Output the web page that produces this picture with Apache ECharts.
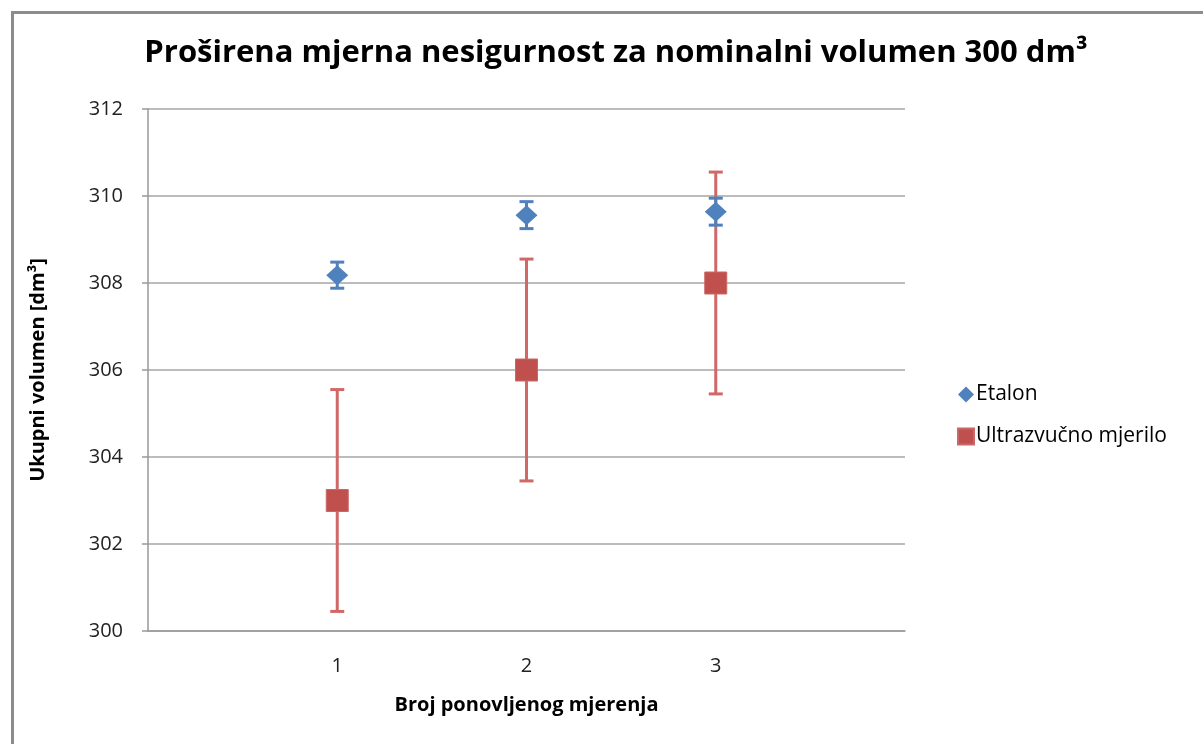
<!DOCTYPE html>
<html>
<head>
<meta charset="utf-8">
<script src="https://cdn.jsdelivr.net/npm/echarts@6/dist/echarts.min.js"></script>
<style>
html,body{margin:0;padding:0;background:#fff;}
#chart{width:1203px;height:744px;}
</style>
</head>
<body>
<div id="chart"></div>
<script>
var xValues = [1, 2, 3];
var etalonValues = [308.18, 309.56, 309.64];
var etalonErrors = [0.30, 0.31, 0.31];
var ultraValues = [303.0, 306.0, 308.0];
var ultraErrors = [2.55, 2.55, 2.55];
var yTicks = [300, 302, 304, 306, 308, 310, 312];
var xTickLabels = ['1', '2', '3'];
var seriesNames = ['Etalon', 'Ultrazvučno mjerilo'];

var BLUE = '#4F81BD', RED = '#C0504D';
var FONT = '"Open Sans", Lato, sans-serif';

function errData(vals, errs) {
  return xValues.map(function (x, i) { return [x, vals[i] - errs[i], vals[i] + errs[i]]; });
}
function pts(vals) {
  return xValues.map(function (x, i) { return [x, vals[i]]; });
}
function errRender(color, width, cap) {
  return function (params, api) {
    var lo = api.coord([api.value(0), api.value(1)]);
    var hi = api.coord([api.value(0), api.value(2)]);
    var st = { stroke: color, lineWidth: width };
    return {
      type: 'group',
      children: [
        { type: 'line', shape: { x1: lo[0], y1: lo[1], x2: hi[0], y2: hi[1] }, style: st },
        { type: 'line', shape: { x1: lo[0] - cap, y1: lo[1], x2: lo[0] + cap, y2: lo[1] }, style: st },
        { type: 'line', shape: { x1: hi[0] - cap, y1: hi[1], x2: hi[0] + cap, y2: hi[1] }, style: st }
      ]
    };
  };
}

var chart = echarts.init(document.getElementById('chart'), null, { renderer: 'canvas' });
chart.setOption({
  backgroundColor: '#fff',
  animation: false,
  graphic: [{
    type: 'rect', left: 10, top: 10, z: -10,
    shape: { width: 1300, height: 900 },
    style: { fill: 'none', stroke: '#8c8c8c', lineWidth: 3 }
  }],
  title: {
    text: 'Proširena mjerna nesigurnost za nominalni volumen 300 dm³',
    left: 611, top: 33, textAlign: 'center',
    textStyle: { fontFamily: FONT, fontWeight: 'bold', fontSize: 31, color: '#000' }
  },
  legend: {
    orient: 'vertical', left: 952, top: 379, itemGap: 21,
    itemWidth: 16, itemHeight: 16,
    textStyle: { fontFamily: FONT, fontSize: 21, color: '#000', padding: [0, 0, 0, -3] },
    data: [
      { name: seriesNames[0], icon: 'diamond', itemStyle: { color: BLUE, opacity: 1 } },
      { name: seriesNames[1], icon: 'rect', itemStyle: { color: RED, opacity: 1 } }
    ]
  },
  grid: { left: 148, right: 298, top: 109, bottom: 113 },
  xAxis: {
    type: 'value', min: 0, max: 4, interval: 1,
    name: 'Broj ponovljenog mjerenja', nameLocation: 'middle', nameGap: 64,
    nameTextStyle: { fontFamily: FONT, fontWeight: 'bold', fontSize: 20, color: '#000' },
    axisLine: { lineStyle: { color: '#999', width: 1.5 } },
    axisTick: { show: false },
    splitLine: { show: false },
    axisLabel: {
      fontFamily: FONT, fontSize: 20, color: '#222', margin: 25,
      formatter: function (v) { var i = xValues.indexOf(v); return i >= 0 ? xTickLabels[i] : ''; }
    }
  },
  yAxis: {
    type: 'value', min: yTicks[0], max: yTicks[yTicks.length - 1], interval: 2,
    name: 'Ukupni volumen [dm³]', nameLocation: 'middle', nameGap: 100, nameRotate: 90,
    nameTextStyle: { fontFamily: FONT, fontWeight: 'bold', fontSize: 20, color: '#000' },
    axisLine: { show: true, lineStyle: { color: '#999', width: 1.5 } },
    axisTick: { show: true, length: 6, lineStyle: { color: '#999', width: 1.5 } },
    splitLine: { lineStyle: { color: '#a6a6a6', width: 1.5 } },
    axisLabel: { fontFamily: FONT, fontSize: 20, color: '#222', margin: 25 }
  },
  series: [
    {
      type: 'custom', name: seriesNames[1] + ' err', z: 2,
      renderItem: errRender('#CF6866', 3, 7),
      data: errData(ultraValues, ultraErrors), silent: true
    },
    {
      type: 'scatter', name: seriesNames[1], z: 3, symbol: 'rect', symbolSize: 22,
      itemStyle: { color: RED, opacity: 1, borderColor: '#C96866', borderWidth: 1 },
      data: pts(ultraValues)
    },
    {
      type: 'custom', name: seriesNames[0] + ' err', z: 4,
      renderItem: errRender(BLUE, 3, 7),
      data: errData(etalonValues, etalonErrors), silent: true
    },
    {
      type: 'scatter', name: seriesNames[0], z: 5, symbol: 'diamond', symbolSize: [22, 20],
      itemStyle: { color: BLUE, opacity: 1 },
      data: pts(etalonValues)
    }
  ]
});
</script>
</body>
</html>
